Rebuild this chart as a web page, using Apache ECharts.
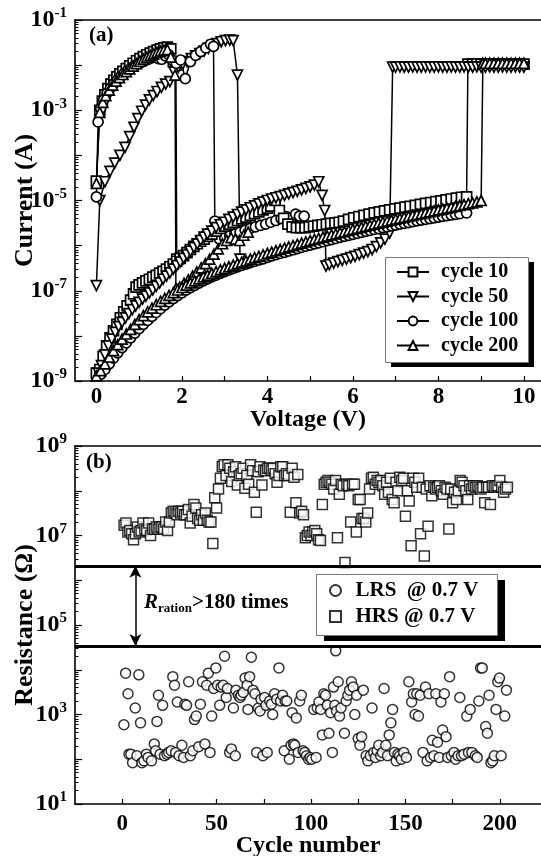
<!DOCTYPE html>
<html><head><meta charset="utf-8">
<script src="https://cdn.jsdelivr.net/npm/echarts@6/dist/echarts.min.js"></script>
<style>html,body{margin:0;padding:0;background:#fff}#c{width:541px;height:856px}</style>
</head><body><div id="c"></div><script>
// ---------- Panel (a): I-V data, [voltage (V), current (A)] ----------
const cycleNames = ['cycle 10', 'cycle 50', 'cycle 100', 'cycle 200'];

const c10Reset = [[0,2.7e-5],[0.08,1.0e-3],[0.14,1.6e-3],[0.2,2.2e-3],[0.27,3.0e-3],[0.34,3.8e-3],[0.41,4.6e-3],[0.48,5.5e-3],[0.55,6.4e-3],[0.62,7.3e-3],[0.7,8.4e-3],[0.78,9.6e-3],[0.86,1.1e-2],[0.94,1.25e-2],[1.02,1.4e-2],[1.1,1.55e-2],[1.18,1.7e-2],[1.26,1.85e-2],[1.34,2.0e-2],[1.42,2.15e-2],[1.5,2.3e-2],[1.58,2.4e-2],[1.66,2.5e-2],[1.74,2.3e-2],[1.8,1.2e-2],[1.86,1.0e-2],[1.88,5e-7]];
const c10Set = [[0,1.5e-9],[0.08,1.8e-9],[0.16,3.5e-9],[0.24,6e-9],[0.32,9e-9],[0.4,1.3e-8],[0.48,1.8e-8],[0.56,2.5e-8],[0.64,3.4e-8],[0.72,4.6e-8],[0.8,6.2e-8],[0.87,8.5e-8],[0.93,1.2e-7],[1.0,1.35e-7],[1.08,1.5e-7],[1.16,1.65e-7],[1.24,1.8e-7],[1.32,2e-7],[1.4,2.2e-7],[1.48,2.45e-7],[1.56,2.7e-7],[1.64,3e-7],[1.72,3.4e-7],[1.8,3.9e-7],[1.88,4.5e-7],[1.96,5.2e-7],[2.04,6e-7],[2.12,7e-7],[2.2,8.2e-7],[2.28,9.6e-7],[2.36,1.1e-6],[2.44,1.25e-6],[2.52,1.4e-6],[2.6,1.6e-6],[2.7,1.8e-6],[2.8,2.1e-6],[2.9,2.4e-6],[3.0,2.7e-6],[3.1,3e-6],[3.2,3.3e-6],[3.3,3.6e-6],[3.4,3.9e-6],[3.5,4.3e-6],[3.6,4.7e-6],[3.7,5.1e-6],[3.8,5.6e-6],[3.9,6.2e-6],[4.0,6.8e-6],[4.08,7.5e-6],[4.18,1e-5],[4.28,6e-6],[4.38,4e-6],[4.48,3e-6],[4.58,2.6e-6],[4.68,2.5e-6],[4.78,2.5e-6],[4.88,2.5e-6],[4.98,2.6e-6],[5.08,2.7e-6],[5.18,2.8e-6],[5.28,2.9e-6],[5.38,3e-6],[5.48,3.1e-6],[5.58,3.2e-6],[5.68,3.3e-6],[5.78,3.5e-6],[5.9,3.8e-6],[6.02,4.1e-6],[6.14,4.4e-6],[6.26,4.7e-6],[6.38,5e-6],[6.5,5.3e-6],[6.62,5.6e-6],[6.74,5.9e-6],[6.86,6.2e-6],[6.98,6.5e-6],[7.1,6.8e-6],[7.22,7.1e-6],[7.34,7.4e-6],[7.46,7.8e-6],[7.58,8.2e-6],[7.7,8.6e-6],[7.82,9e-6],[7.94,9.4e-6],[8.06,9.8e-6],[8.18,1.03e-5],[8.3,1.08e-5],[8.42,1.13e-5],[8.54,1.18e-5],[8.66,1.2e-5],[8.69,1.05e-2],[8.8,1.05e-2],[8.9,1.06e-2],[9.0,1.05e-2],[9.1,1.05e-2],[9.2,1.06e-2],[9.3,1.05e-2],[9.4,1.05e-2],[9.5,1.06e-2],[9.6,1.05e-2],[9.7,1.05e-2],[9.8,1.06e-2],[9.9,1.05e-2],[10.0,1.05e-2]];

const c50Reset = [[0,1.3e-7],[0.08,1.0e-5],[0.2,2.6e-5],[0.32,4.4e-5],[0.43,6.7e-5],[0.55,1.0e-4],[0.67,1.5e-4],[0.78,2.6e-4],[0.88,4.2e-4],[0.97,6.5e-4],[1.06,9.5e-4],[1.15,1.3e-3],[1.24,1.7e-3],[1.33,2.1e-3],[1.42,2.6e-3],[1.52,3.2e-3],[1.62,3.8e-3],[1.72,4.3e-3],[1.82,7e-3],[1.92,9e-3],[2.02,1.05e-2],[2.12,1.2e-2],[2.22,1.4e-2],[2.32,1.6e-2],[2.42,1.8e-2],[2.52,2.05e-2],[2.62,2.35e-2],[2.72,2.7e-2],[2.82,3.0e-2],[2.92,3.3e-2],[3.02,3.5e-2],[3.12,3.6e-2],[3.2,3.5e-2],[3.3,6e-3],[3.36,5e-7]];
const c50Set = [[0.05,1.5e-9],[0.12,2.2e-9],[0.2,3.8e-9],[0.28,6e-9],[0.36,8.5e-9],[0.44,1.2e-8],[0.52,1.6e-8],[0.6,2e-8],[0.68,2.5e-8],[0.76,3.1e-8],[0.84,3.8e-8],[0.92,4.6e-8],[1.0,5.5e-8],[1.08,6.5e-8],[1.16,7.6e-8],[1.24,9e-8],[1.32,1.05e-7],[1.4,1.25e-7],[1.48,1.5e-7],[1.56,1.8e-7],[1.64,2.1e-7],[1.72,2.5e-7],[1.8,3e-7],[1.88,3.6e-7],[1.96,4.3e-7],[2.04,5.2e-7],[2.12,6.2e-7],[2.2,7.5e-7],[2.28,9e-7],[2.36,1.08e-6],[2.44,1.3e-6],[2.52,1.55e-6],[2.6,1.8e-6],[2.7,2.1e-6],[2.8,2.5e-6],[2.9,2.9e-6],[3.0,3.3e-6],[3.1,3.8e-6],[3.2,4.3e-6],[3.3,4.9e-6],[3.4,5.5e-6],[3.5,6.2e-6],[3.6,6.9e-6],[3.7,7.6e-6],[3.8,8.4e-6],[3.9,9.2e-6],[4.0,1e-5],[4.1,1.08e-5],[4.2,1.15e-5],[4.3,1.22e-5],[4.4,1.3e-5],[4.5,1.4e-5],[4.6,1.5e-5],[4.7,1.6e-5],[4.8,1.72e-5],[4.9,1.85e-5],[5.0,2e-5],[5.1,2.2e-5],[5.2,2.6e-5],[5.28,1.3e-5],[5.34,6e-6],[5.37,3.5e-7],[5.45,3.8e-7],[5.55,4.1e-7],[5.65,4.4e-7],[5.75,4.7e-7],[5.85,5e-7],[5.95,5.4e-7],[6.05,5.8e-7],[6.15,6.3e-7],[6.25,6.8e-7],[6.35,7.4e-7],[6.45,8.2e-7],[6.55,9.5e-7],[6.65,1.15e-6],[6.75,1.4e-6],[6.86,1.9e-6],[6.93,9e-3],[7.0,9e-3],[7.1,9.1e-3],[7.2,9e-3],[7.3,9e-3],[7.4,9.1e-3],[7.5,9e-3],[7.6,9e-3],[7.7,9.1e-3],[7.8,9e-3],[7.9,9e-3],[8.0,9.1e-3],[8.1,9e-3],[8.2,9e-3],[8.3,9.1e-3],[8.4,9e-3],[8.5,9e-3],[8.6,9.1e-3],[8.7,9e-3],[8.8,9e-3],[8.9,9.1e-3],[9.0,9e-3],[9.1,9e-3],[9.2,9.1e-3],[9.3,9e-3],[9.4,9e-3],[9.5,9.1e-3],[9.6,9e-3],[9.7,9e-3],[9.8,9.1e-3],[9.9,9e-3],[10.0,9e-3]];

const c100Reset = [[0,1.2e-5],[0.04,5.5e-4],[0.1,1.1e-3],[0.17,1.7e-3],[0.25,2.4e-3],[0.33,3.1e-3],[0.41,3.9e-3],[0.49,4.7e-3],[0.57,5.6e-3],[0.65,6.6e-3],[0.73,7.6e-3],[0.81,8.6e-3],[0.89,9.6e-3],[0.97,1.06e-2],[1.05,1.15e-2],[1.13,1.25e-2],[1.21,1.35e-2],[1.29,1.45e-2],[1.37,1.5e-2],[1.45,1.4e-2],[1.53,1.35e-2],[1.61,1.6e-2],[1.69,1.7e-2],[1.77,1.3e-2],[1.87,1.1e-2],[1.97,1.3e-2],[2.08,5e-3],[2.2,1.2e-2],[2.32,1.65e-2],[2.44,2.0e-2],[2.56,2.4e-2],[2.67,2.9e-2],[2.74,2.6e-2],[2.77,3.5e-6],[2.88,1.4e-6],[3.0,1.5e-6],[3.12,1.65e-6],[3.24,1.8e-6],[3.36,2e-6],[3.48,2.2e-6],[3.6,2.4e-6],[3.72,2.6e-6],[3.84,2.8e-6],[3.96,3e-6],[4.08,3.3e-6],[4.2,3.6e-6],[4.32,4e-6],[4.44,4.4e-6],[4.56,4.2e-6],[4.66,5e-6],[4.75,4.5e-6],[4.86,4.5e-6]];
const c100Set = [[0.1,1.4e-9],[0.2,1.8e-9],[0.3,2.4e-9],[0.4,3.2e-9],[0.5,4.2e-9],[0.6,5.5e-9],[0.7,7e-9],[0.8,9e-9],[0.9,1.15e-8],[1.0,1.45e-8],[1.1,1.8e-8],[1.2,2.2e-8],[1.3,2.7e-8],[1.4,3.3e-8],[1.5,4e-8],[1.6,4.8e-8],[1.7,5.7e-8],[1.8,6.7e-8],[1.9,7.8e-8],[2.0,9e-8],[2.1,1.03e-7],[2.2,1.17e-7],[2.3,1.32e-7],[2.4,1.48e-7],[2.5,1.65e-7],[2.6,1.83e-7],[2.7,2.02e-7],[2.8,2.22e-7],[2.9,2.43e-7],[3.0,2.65e-7],[3.1,2.88e-7],[3.2,3.12e-7],[3.3,3.37e-7],[3.4,3.63e-7],[3.5,3.9e-7],[3.6,4.2e-7],[3.7,4.5e-7],[3.8,4.8e-7],[3.9,5.1e-7],[4.0,5.5e-7],[4.1,5.9e-7],[4.2,6.3e-7],[4.3,6.7e-7],[4.4,7.1e-7],[4.5,7.6e-7],[4.6,8.1e-7],[4.7,8.6e-7],[4.8,9.1e-7],[4.9,9.7e-7],[5.0,1.03e-6],[5.1,1.09e-6],[5.2,1.15e-6],[5.3,1.22e-6],[5.4,1.29e-6],[5.5,1.36e-6],[5.6,1.44e-6],[5.7,1.52e-6],[5.8,1.6e-6],[5.9,1.69e-6],[6.0,1.78e-6],[6.1,1.87e-6],[6.2,1.97e-6],[6.3,2.07e-6],[6.4,2.17e-6],[6.5,2.28e-6],[6.6,2.39e-6],[6.7,2.5e-6],[6.8,2.62e-6],[6.9,2.74e-6],[7.0,2.86e-6],[7.1,2.99e-6],[7.2,3.12e-6],[7.3,3.25e-6],[7.4,3.39e-6],[7.5,3.53e-6],[7.6,3.67e-6],[7.7,3.82e-6],[7.8,3.97e-6],[7.9,4.12e-6],[8.0,4.28e-6],[8.1,4.44e-6],[8.2,4.6e-6],[8.3,4.77e-6],[8.4,4.94e-6],[8.5,5.1e-6],[8.66,5.3e-6]];

const c200Reset = [[0,2.4e-5],[0.08,9e-4],[0.15,1.5e-3],[0.22,2.1e-3],[0.3,2.8e-3],[0.38,3.6e-3],[0.46,4.4e-3],[0.54,5.3e-3],[0.62,6.2e-3],[0.7,7.2e-3],[0.78,8.3e-3],[0.86,9.5e-3],[0.94,1.08e-2],[1.02,1.22e-2],[1.1,1.36e-2],[1.18,1.5e-2],[1.26,1.64e-2],[1.34,1.78e-2],[1.42,1.92e-2],[1.5,2.05e-2],[1.58,2.15e-2],[1.66,2.2e-2],[1.74,1.5e-2],[1.84,6e-3],[1.86,1.1e-7],[1.95,1.2e-7],[2.05,1.45e-7],[2.15,1.75e-7],[2.25,2.1e-7],[2.35,2.6e-7],[2.45,3.2e-7],[2.55,4e-7],[2.65,5e-7],[2.75,6.5e-7],[2.85,8.5e-7],[2.95,1.1e-6],[3.05,1.3e-6],[3.15,1.5e-6],[3.25,1.4e-6],[3.35,1.3e-6],[3.45,1.7e-6],[3.55,2e-6]];
const c200Set = [[0,1.3e-9],[0.1,1.7e-9],[0.2,2.4e-9],[0.3,3.4e-9],[0.4,4.7e-9],[0.5,6.4e-9],[0.6,8.5e-9],[0.7,1.1e-8],[0.8,1.4e-8],[0.9,1.8e-8],[1.0,2.3e-8],[1.1,2.8e-8],[1.2,3.4e-8],[1.3,4.1e-8],[1.4,4.9e-8],[1.5,5.8e-8],[1.6,6.8e-8],[1.7,7.9e-8],[1.8,9.1e-8],[1.9,1.04e-7],[2.0,1.18e-7],[2.1,1.33e-7],[2.2,1.49e-7],[2.3,1.66e-7],[2.4,1.84e-7],[2.5,2.03e-7],[2.6,2.23e-7],[2.7,2.44e-7],[2.8,2.66e-7],[2.9,2.9e-7],[3.0,3.15e-7],[3.1,3.4e-7],[3.2,3.7e-7],[3.3,4e-7],[3.4,4.3e-7],[3.5,4.6e-7],[3.6,5e-7],[3.7,5.4e-7],[3.8,5.8e-7],[3.9,6.2e-7],[4.0,6.7e-7],[4.1,7.2e-7],[4.2,7.7e-7],[4.3,8.2e-7],[4.4,8.8e-7],[4.5,9.4e-7],[4.6,1e-6],[4.7,1.07e-6],[4.8,1.14e-6],[4.9,1.21e-6],[5.0,1.29e-6],[5.1,1.37e-6],[5.2,1.45e-6],[5.3,1.54e-6],[5.4,1.63e-6],[5.5,1.73e-6],[5.6,1.83e-6],[5.7,1.94e-6],[5.8,2.05e-6],[5.9,2.17e-6],[6.0,2.29e-6],[6.1,2.42e-6],[6.2,2.55e-6],[6.3,2.69e-6],[6.4,2.84e-6],[6.5,2.99e-6],[6.6,3.15e-6],[6.7,3.31e-6],[6.8,3.48e-6],[6.9,3.66e-6],[7.0,3.85e-6],[7.1,4.04e-6],[7.2,4.24e-6],[7.3,4.45e-6],[7.4,4.67e-6],[7.5,4.9e-6],[7.6,5.13e-6],[7.7,5.38e-6],[7.8,5.63e-6],[7.9,5.9e-6],[8.0,6.17e-6],[8.1,6.46e-6],[8.2,6.76e-6],[8.3,7.07e-6],[8.4,7.4e-6],[8.5,7.74e-6],[8.6,8.1e-6],[8.7,8.5e-6],[8.8,8.9e-6],[8.9,9.3e-6],[9.0,1e-5],[9.04,1.1e-2],[9.1,1.1e-2],[9.2,1.1e-2],[9.3,1.1e-2],[9.4,1.1e-2],[9.5,1.1e-2],[9.6,1.1e-2],[9.7,1.1e-2],[9.8,1.1e-2],[9.9,1.1e-2],[10.0,1.1e-2]];

const voltTicks = [0, 2, 4, 6, 8, 10];
const currentExpLabels = [-9, -7, -5, -3, -1];

// ---------- Panel (b): resistance vs cycle ----------
const stateNames = ['LRS  @ 0.7 V', 'HRS @ 0.7 V'];
// HRS resistance (ohm), cycles 1..204
const hrsOhm = [1.7e7,1.9e7,1.2e7,1.3e7,1.1e7,8.0e6,1.1e7,1.55e7,1.2e7,1.3e7,1.9e7,1.4e7,1.3e7,1.9e7,1.0e7,1.4e7,1.4e7,1.55e7,1.4e7,1.55e7,1.55e7,1.4e7,2.0e7,1.3e7,2.0e7,3.2e7,3.5e7,3.2e7,2.9e7,3.5e7,3.2e7,3.5e7,2.9e7,2.9e7,3.8e7,1.9e7,2.7e7,4.9e7,4.1e7,2.4e7,2.2e7,2.9e7,2.2e7,3.2e7,2.2e7,2.0e7,2.0e7,6.6e6,7.0e7,4.1e7,1.1e8,1.9e8,3.5e8,3.8e8,2.2e8,3.8e8,3.2e8,1.6e8,2.65e8,3.45e8,1.35e8,2.2e8,2.4e8,3.2e8,1.13e8,2.2e8,1.4e8,3.8e8,2.8e8,9.2e7,3.3e7,2.65e8,3.45e8,1.35e8,2.9e8,2.8e8,3.2e8,3.2e8,2.9e8,3.2e8,2.4e8,1.55e8,2.2e8,3.45e8,3.45e8,2.2e8,2.4e8,2.2e8,3.3e7,3.2e8,2.0e8,5.4e7,2.3e8,3.2e7,3.5e7,2.9e7,8.9e6,1.0e7,1.2e7,1.0e7,1.2e7,1.3e7,1.1e7,8.0e6,7.7e6,4.9e7,1.4e8,1.55e8,1.7e8,1.55e8,1.4e8,1.1e8,1.7e8,8.9e6,8.4e7,1.4e8,1.3e8,2.5e6,1.4e8,1.3e8,2.0e7,1.4e8,1.4e8,1.2e7,6.4e7,6.4e7,2.4e7,2.4e7,2.0e7,3.2e7,1.1e8,1.9e8,2.0e8,1.4e8,1.7e8,1.55e8,1.7e8,1.3e8,8.4e7,1.55e8,9.2e7,1.9e8,6.4e7,5.4e7,1.55e8,1.0e8,2.0e8,1.7e8,1.9e8,2.7e7,1.0e8,5.9e7,5.9e6,1.9e8,1.55e8,1.2e8,1.9e8,1.1e7,1.2e8,3.5e6,1.1e8,1.6e7,1.3e8,7.7e7,1.2e8,1.1e8,1.2e8,1.3e8,1.0e8,8.4e7,1.2e8,1.1e8,1.4e7,1.1e8,5.4e7,9.2e7,6.4e7,1.0e8,1.7e8,1.55e8,1.3e8,1.0e8,6.4e7,1.3e8,1.1e8,1.3e8,1.2e8,1.3e8,1.2e8,1.1e8,1.2e8,5.4e7,1.2e8,1.2e8,4.9e7,1.3e8,1.2e8,1.3e8,1.3e8,1.7e8,1.2e8,9.2e7,1.1e8,1.2e8];
// LRS points [cycle, resistance (ohm)]
const lrsPts = [[0.9,590],[1.8,8400],[3.1,2900],[3.6,130],[4.6,130],[5.5,84],[6.9,1400],[7.8,120],[8.8,7700],[9.7,650],[10.4,84],[11.5,92],[12.8,130],[13.7,110],[15.5,92],[17.0,220],[17.7,155],[18.4,700],[19.2,2700],[20.1,130],[21.4,1600],[22.4,120],[23.7,130],[24.6,142],[25.9,155],[26.8,7000],[27.7,4500],[28.3,142],[29.2,1900],[30.1,120],[31.6,205],[32.5,110],[33.2,1700],[34.1,1600],[35.2,5400],[36.1,120],[37.4,155],[38.3,770],[39.2,920],[40.5,190],[41.4,1700],[42.5,5400],[43.8,220],[44.7,4500],[45.6,8400],[46.5,142],[47.4,920],[48.4,3800],[49.6,11000],[50.5,4500],[51.6,1600],[52.4,4100],[53.5,4500],[54.2,20000],[55.1,2400],[55.7,3800],[56.9,142],[57.8,170],[58.9,1400],[59.9,120],[60.2,3500],[61.5,2700],[62.4,2400],[63.0,2700],[64.1,3100],[65.1,6500],[66.1,4500],[66.6,1300],[67.5,7000],[68.4,19000],[69.3,3500],[70.3,2900],[71.2,142],[72.1,1400],[73.0,1200],[73.5,2200],[74.5,120],[75.4,2400],[76.1,1600],[76.8,142],[78.1,2000],[79.0,1700],[79.7,1000],[80.7,2900],[81.8,2200],[83.0,11000],[83.9,2000],[84.9,2700],[85.8,155],[86.3,2000],[87.2,2000],[88.5,100],[89.4,205],[90.0,1100],[90.7,220],[91.4,205],[92.2,840],[93.2,142],[94.0,2000],[94.9,2700],[95.8,155],[96.7,142],[97.6,120],[98.7,100],[99.5,110],[100.4,100],[101.5,1300],[102.7,110],[103.3,1400],[104.2,1900],[105.1,1300],[106.0,350],[106.8,2900],[107.7,2700],[108.6,1600],[109.5,380],[110.4,1100],[111.3,142],[111.9,4100],[112.6,1600],[113.1,26500],[113.5,1200],[114.4,5400],[115.1,920],[115.9,1400],[117.7,380],[118.6,2000],[119.5,2700],[120.4,3500],[121.4,5400],[122.3,4100],[123.2,1000],[124.1,2700],[125.0,290],[125.9,205],[126.8,320],[127.7,3500],[129.2,120],[130.1,92],[131.4,120],[132.3,1400],[133.2,142],[134.1,110],[135.0,155],[135.9,205],[136.9,120],[137.8,142],[138.7,3800],[139.6,205],[140.5,120],[141.4,350],[142.3,650],[143.2,1300],[144.2,142],[145.1,92],[146.0,130],[146.9,120],[147.8,100],[149.1,142],[150.5,110],[151.8,5400],[153.3,1900],[154.2,2900],[155.1,1000],[156.0,2900],[156.9,920],[157.8,2700],[159.3,142],[160.6,4100],[161.5,92],[162.4,2900],[163.3,110],[164.2,265],[165.1,120],[166.1,2900],[167.0,240],[167.9,110],[168.8,1900],[169.7,450],[170.6,2900],[171.5,320],[172.4,110],[173.4,7000],[174.3,120],[175.7,142],[176.6,100],[177.9,120],[178.8,2400],[179.7,120],[181.0,130],[182.5,920],[183.4,142],[184.3,1300],[185.2,142],[187.0,120],[188.0,110],[188.9,2000],[189.8,11000],[190.7,11000],[192.5,540],[193.4,380],[194.3,2700],[195.3,84],[196.2,92],[197.1,120],[198.0,1300],[198.9,5400],[199.8,6500],[200.7,120],[202.6,920],[203.5,3500]];
const cycleTicks = [0, 50, 100, 150, 200];
const cycleMinorTicks = [0, 25, 50, 75, 100, 125, 150, 175, 200];
const resExpLabels = [1, 3, 5, 7, 9];
const windowBounds = [2.1e6, 3.4e4];   // HRS floor / LRS ceiling lines
const arrowCycle = 7;

// ---------- build ----------
const FONT = 'Liberation Serif';
const lg = a => a.map(p => [p[0], Math.log10(p[1])]);
const decades = (a, b) => { const r = []; for (let n = a; n <= b; n++) r.push(n); return r; };
const minors = (a, b) => { const r = []; for (let n = a; n < b; n++) for (let k = 2; k <= 9; k++) r.push(n + Math.log10(k)); return r; };
const supFmt = v => '{b|10}{s|' + Math.round(v) + '}';
const supRich = {
  b: { fontFamily: FONT, fontWeight: 'bold', fontSize: 24, color: '#000', lineHeight: 28 },
  s: { fontFamily: FONT, fontWeight: 'bold', fontSize: 15, color: '#000', lineHeight: 11, verticalAlign: 'top' }
};
const axLine = { show: true, onZero: false, lineStyle: { color: '#000', width: 1.6 } };
const noLine = { show: false, onZero: false };
const tickFont = { fontFamily: FONT, fontWeight: 'bold', fontSize: 23, color: '#000' };
const nameFont = { fontFamily: FONT, fontWeight: 'bold', fontSize: 24, color: '#000' };
const yNameFont = { fontFamily: FONT, fontWeight: 'bold', fontSize: 26, color: '#000' };

const downTri = 'path://M0,0L10,0L5,9Z';
const square = 'path://M0,0L10,0L10,10L0,10Z';
const symbols = { 'cycle 10': 'rect', 'cycle 50': downTri, 'cycle 100': 'circle', 'cycle 200': 'triangle' };
function ivSeries(name, data) {
  return {
    type: 'line', name, xAxisIndex: 0, yAxisIndex: 0, data: lg(data),
    symbol: symbols[name], symbolSize: 10, showAllSymbol: true,
    itemStyle: { color: '#fff', borderColor: '#000', borderWidth: 1.7 },
    lineStyle: { color: '#000', width: 1.5 }, emphasis: { disabled: true }, z: 3
  };
}

const series = [
  ivSeries('cycle 10', c10Reset), ivSeries('cycle 50', c50Reset), ivSeries('cycle 100', c100Reset), ivSeries('cycle 200', c200Reset),
  ivSeries('cycle 10', c10Set), ivSeries('cycle 50', c50Set), ivSeries('cycle 100', c100Set), ivSeries('cycle 200', c200Set),
  {
    type: 'scatter', name: stateNames[0], xAxisIndex: 2, yAxisIndex: 2, data: lg(lrsPts),
    symbol: 'circle', symbolSize: 10,
    itemStyle: { color: '#fff', borderColor: '#000', borderWidth: 1.5 }, emphasis: { disabled: true }
  },
  {
    type: 'scatter', name: stateNames[1], xAxisIndex: 2, yAxisIndex: 2,
    data: hrsOhm.map((v, i) => [i + 1, Math.log10(v)]),
    symbol: square, symbolSize: 10,
    itemStyle: { color: '#fff', borderColor: '#000', borderWidth: 1.5 }, emphasis: { disabled: true },
    markLine: {
      silent: true, animation: false, label: { show: false },
      lineStyle: { color: '#000', width: 3, type: 'solid' },
      data: [
        [{ coord: [-25, Math.log10(windowBounds[0])], symbol: 'none' }, { coord: [221.8, Math.log10(windowBounds[0])], symbol: 'none' }],
        [{ coord: [-25, Math.log10(windowBounds[1])], symbol: 'none' }, { coord: [221.8, Math.log10(windowBounds[1])], symbol: 'none' }],
        [{ coord: [arrowCycle, Math.log10(windowBounds[0])], symbol: 'arrow', symbolSize: [9, 12], lineStyle: { width: 1.5 } },
         { coord: [arrowCycle, Math.log10(windowBounds[1])], symbol: 'arrow', symbolSize: [9, 12], lineStyle: { width: 1.5 } }]
      ]
    }
  }
];

const legendText = { fontFamily: FONT, fontWeight: 'bold', fontSize: 20, color: '#000', lineHeight: 20 };
const option = {
  animation: false,
  backgroundColor: '#fff',
  grid: [
    { left: 75, top: 20, width: 466, height: 361, containLabel: false, outerBoundsMode: 'none' },
    { left: 75, top: 446, width: 466, height: 358, containLabel: false, outerBoundsMode: 'none' }
  ],
  xAxis: [
    { type: 'value', gridIndex: 0, min: -0.5, max: 10.4, position: 'bottom', axisLine: axLine,
      splitLine: { show: false },
      axisTick: { inside: true, length: 5, customValues: decades(0, 10), lineStyle: { color: '#000', width: 1.2 } },
      axisLabel: { customValues: voltTicks, margin: 5, ...tickFont },
      name: 'Voltage (V)', nameLocation: 'middle', nameGap: 27, nameMoveOverlap: false, nameTextStyle: nameFont },
    { type: 'value', gridIndex: 0, min: -0.5, max: 10.4, position: 'top', axisLine: axLine,
      splitLine: { show: false }, axisTick: { show: false }, axisLabel: { show: false } },
    { type: 'value', gridIndex: 1, min: -25, max: 221.8, position: 'bottom', axisLine: axLine,
      splitLine: { show: false },
      axisTick: { inside: true, length: 5, customValues: cycleMinorTicks, lineStyle: { color: '#000', width: 1.2 } },
      axisLabel: { customValues: cycleTicks, margin: 9, ...tickFont },
      name: 'Cycle number', nameLocation: 'middle', nameGap: 30, nameMoveOverlap: false, nameTextStyle: nameFont },
    { type: 'value', gridIndex: 1, min: -25, max: 221.8, position: 'top', axisLine: axLine,
      splitLine: { show: false }, axisTick: { show: false }, axisLabel: { show: false } }
  ],
  yAxis: [
    { type: 'value', gridIndex: 0, min: -9, max: -1, position: 'left', axisLine: axLine, splitLine: { show: false },
      axisTick: { inside: true, length: 7, customValues: decades(-9, -1), lineStyle: { color: '#000', width: 1.2 } },
      axisLabel: { customValues: currentExpLabels, formatter: supFmt, rich: supRich, margin: 8 },
      name: 'Current (A)', nameLocation: 'middle', nameGap: 37, nameMoveOverlap: false, nameRotate: 90, nameTextStyle: yNameFont },
    { type: 'value', gridIndex: 0, min: -9, max: -1, position: 'left', axisLine: noLine, splitLine: { show: false },
      axisTick: { inside: true, length: 3.5, customValues: minors(-9, -1), lineStyle: { color: '#000', width: 1 } },
      axisLabel: { show: false } },
    { type: 'value', gridIndex: 1, min: 1, max: 9, position: 'left', axisLine: axLine, splitLine: { show: false },
      axisTick: { inside: true, length: 7, customValues: decades(1, 9), lineStyle: { color: '#000', width: 1.2 } },
      axisLabel: { customValues: resExpLabels, formatter: supFmt, rich: supRich, margin: 8 },
      name: 'Resistance (Ω)', nameLocation: 'middle', nameGap: 37, nameMoveOverlap: false, nameRotate: 90, nameTextStyle: yNameFont },
    { type: 'value', gridIndex: 1, min: 1, max: 9, position: 'left', axisLine: noLine, splitLine: { show: false },
      axisTick: { inside: true, length: 3.5, customValues: minors(1, 9), lineStyle: { color: '#000', width: 1 } },
      axisLabel: { show: false } }
  ],
  legend: [
    { data: cycleNames, orient: 'vertical', left: 396, top: 262, z: 20,
      padding: 0, itemGap: 4.5, itemWidth: 32, itemHeight: 11,
      textStyle: { ...legendText, padding: [0, 0, 0, 7] }, selectedMode: false },
    { data: stateNames, orient: 'vertical', left: 329, top: 580, z: 20,
      padding: 0, itemGap: 5, itemWidth: 30, itemHeight: 11,
      textStyle: { ...legendText, fontSize: 21 }, selectedMode: false }
  ],
  graphic: [
    { type: 'rect', z: 18, shape: { x: 391, y: 262, width: 143, height: 105 }, style: { fill: '#000' } },
    { type: 'rect', z: 19, shape: { x: 385.5, y: 257.5, width: 143, height: 105 }, style: { fill: '#fff', stroke: '#777', lineWidth: 1 } },
    { type: 'rect', z: 18, shape: { x: 324, y: 580, width: 181, height: 61 }, style: { fill: '#000' } },
    { type: 'rect', z: 19, shape: { x: 316.5, y: 574.5, width: 181, height: 61 }, style: { fill: '#fff', stroke: '#777', lineWidth: 1 } },
    { type: 'text', left: 89, top: 25, z: 20, style: { text: '(a)', font: 'bold 21px "Liberation Serif"', fill: '#000' } },
    { type: 'text', left: 86, top: 452, z: 20, style: { text: '(b)', font: 'bold 21px "Liberation Serif"', fill: '#000' } },
    { type: 'text', left: 144, top: 592, z: 20, style: {
        text: '{i|R}{sub|ration}{n|>180 times}',
        rich: {
          i: { fontFamily: FONT, fontStyle: 'italic', fontWeight: 'bold', fontSize: 21, lineHeight: 26, fill: '#000' },
          sub: { fontFamily: FONT, fontWeight: 'bold', fontSize: 13, lineHeight: 12, verticalAlign: 'bottom', fill: '#000' },
          n: { fontFamily: FONT, fontWeight: 'bold', fontSize: 21, lineHeight: 26, fill: '#000' }
        } } }
  ],
  series
};

const chart = echarts.init(document.getElementById('c'), null, { renderer: 'canvas' });
chart.setOption(option);
</script></body></html>
